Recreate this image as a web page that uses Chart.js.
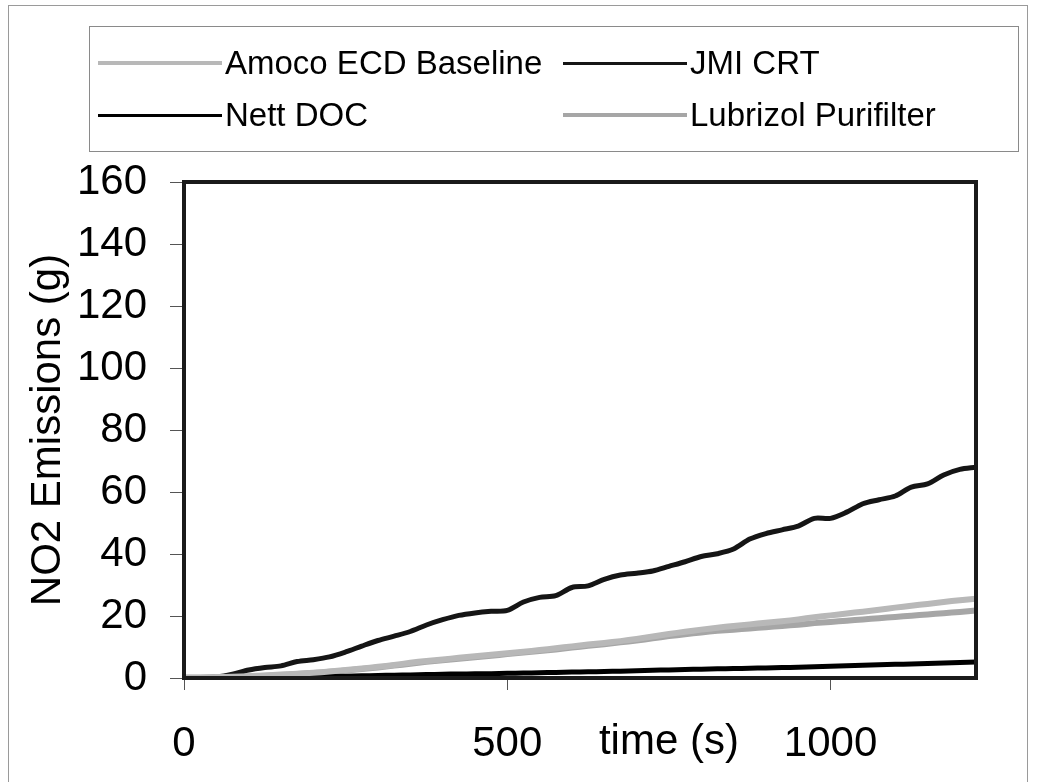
<!DOCTYPE html>
<html>
<head>
<meta charset="utf-8">
<script src="https://cdn.jsdelivr.net/npm/chart.js@4.4.1/dist/chart.umd.min.js"></script>
<style>
    html, body { margin: 0; padding: 0; background: #fff; }
    #wrap { position: relative; width: 1047px; height: 782px; }
    #grafica { position: absolute; left: 0; top: 0; }
    #leyenda {
        position: absolute; left: 89px; top: 26px; width: 930px; height: 126px;
        border: 1px solid #8a8a8a; box-sizing: border-box;
        font-family: "Liberation Sans", Arial, sans-serif; font-size: 33px; color: #000;
    }
    .item { position: absolute; display: flex; align-items: center; height: 40px; white-space: nowrap; }
    .muestra { width: 124px; margin-right: 3px; }
</style>
</head>
<body>
<div id="wrap">
    <canvas id="grafica" width="1047" height="782"></canvas>
    <div id="leyenda"></div>
</div>
<script>
// ==============================
// DATOS
// ==============================
const tiempo = [0, 25, 50, 75, 100, 125, 150, 175, 200, 225, 250, 275, 300, 325, 350, 375, 400, 425, 450, 475,
    500, 525, 550, 575, 600, 625, 650, 675, 700, 725, 750, 775, 800, 825, 850, 875, 900, 925, 950, 975,
    1000, 1025, 1050, 1075, 1100, 1125, 1150, 1175, 1200, 1225];

const amocoBaseline = [0.2, 0.2, 0.3, 0.4, 0.6, 0.8, 1.1, 1.4, 1.7, 2.1, 2.6, 3.1, 3.6, 4.2, 4.9, 5.5, 6.0, 6.5, 7.0, 7.5,
    8.0, 8.5, 9.0, 9.6, 10.2, 10.8, 11.3, 11.9, 12.6, 13.4, 14.2, 14.9, 15.6, 16.2, 16.8, 17.3, 17.8, 18.3, 18.9, 19.6,
    20.2, 20.8, 21.4, 22.0, 22.7, 23.3, 23.9, 24.5, 25.1, 25.6];

const jmiCrt = [0, 0, 0.3, 1.2, 2.6, 3.4, 3.9, 5.3, 5.9, 6.8, 8.4, 10.3, 12.1, 13.5, 15.0, 17.1, 18.8, 20.2, 21.0, 21.5,
    21.8, 24.5, 26.0, 26.6, 29.2, 29.7, 31.8, 33.2, 33.8, 34.5, 36.0, 37.5, 39.2, 40.1, 41.6, 44.8, 46.6, 47.8, 49.0, 51.5,
    51.5, 53.5, 56.2, 57.5, 58.7, 61.6, 62.6, 65.5, 67.3, 68.0];

const nettDoc = [0, 0, 0, 0, 0, 0.1, 0.2, 0.3, 0.4, 0.5, 0.6, 0.7, 0.8, 0.9, 1.0, 1.1, 1.2, 1.3, 1.35, 1.4,
    1.5, 1.6, 1.7, 1.8, 1.9, 2.0, 2.1, 2.2, 2.35, 2.5, 2.6, 2.75, 2.85, 2.95, 3.05, 3.15, 3.25, 3.35, 3.5, 3.65,
    3.8, 3.95, 4.1, 4.25, 4.4, 4.55, 4.7, 4.85, 5.0, 5.2];

const lubrizol = [0.1, 0.1, 0.2, 0.3, 0.5, 0.7, 1.0, 1.3, 1.6, 2.0, 2.4, 2.9, 3.4, 4.0, 4.6, 5.2, 5.7, 6.2, 6.7, 7.2,
    7.7, 8.2, 8.7, 9.2, 9.8, 10.4, 10.9, 11.5, 12.1, 12.8, 13.5, 14.1, 14.7, 15.2, 15.6, 16.0, 16.4, 16.8, 17.2, 17.7,
    18.1, 18.5, 18.9, 19.3, 19.7, 20.1, 20.5, 20.9, 21.3, 21.8];

const ticksX = [0, 500, 1000];
const tituloX = "time (s)";
const tituloY = "NO2 Emissions (g)";

const fuente = '"Liberation Sans", Arial, sans-serif';

function puntos(valores) {
    return valores.map((v, i) => ({ x: tiempo[i], y: v }));
}

// ==============================
// MARCOS Y TÍTULO DEL EJE X
// ==============================
const marco = {
    id: "marco",
    beforeDraw(chart) {
        const ctx = chart.ctx;
        ctx.save();
        ctx.strokeStyle = "#9a9a9a";
        ctx.lineWidth = 1;
        ctx.strokeRect(8.5, 5.5, 1019, 800);
        ctx.restore();
    },
    afterDatasetsDraw(chart) {
        const a = chart.chartArea;
        const ctx = chart.ctx;
        ctx.save();
        ctx.strokeStyle = "#1a1a1a";
        ctx.lineWidth = 4;
        ctx.strokeRect(a.left, a.top, a.right - a.left, a.bottom - a.top);
        ctx.restore();
    },
    afterDraw(chart) {
        const ctx = chart.ctx;
        const x = chart.scales.x.getPixelForValue(750);
        ctx.save();
        ctx.font = "42px " + fuente;
        ctx.fillStyle = "#000";
        ctx.textAlign = "center";
        ctx.textBaseline = "middle";
        ctx.fillText(tituloX, x, 742);
        ctx.restore();
    }
};

// ==============================
// GRÁFICA
// ==============================
const grafica = new Chart(document.getElementById("grafica"), {
    type: "line",
    data: {
        datasets: [
            { label: "Amoco ECD Baseline", data: puntos(amocoBaseline), borderColor: "#b8b8b8", borderWidth: 6 },
            { label: "JMI CRT", data: puntos(jmiCrt), borderColor: "#151515", borderWidth: 5 },
            { label: "Nett DOC", data: puntos(nettDoc), borderColor: "#000000", borderWidth: 5 },
            { label: "Lubrizol Purifilter", data: puntos(lubrizol), borderColor: "#a6a6a6", borderWidth: 6 }
        ]
    },
    options: {
        responsive: false,
        animation: false,
        layout: { padding: { top: 182, right: 71, bottom: 0, left: 0 } },
        elements: {
            point: { radius: 0 },
            line: { tension: 0.3, fill: false }
        },
        plugins: {
            legend: { display: false },
            tooltip: { enabled: false }
        },
        scales: {
            x: {
                type: "linear",
                min: 0,
                max: 1225,
                afterBuildTicks: s => { s.ticks = ticksX.map(v => ({ value: v })); },
                afterFit: s => { s.height = 104; },
                ticks: {
                    autoSkip: false, padding: 29, maxRotation: 0, color: "#000",
                    font: { family: fuente, size: 42 },
                    callback: v => String(v)
                },
                grid: { drawOnChartArea: false, tickLength: 12, tickColor: "#555", tickWidth: 1 },
                border: { display: false }
            },
            y: {
                min: 0,
                max: 160,
                afterFit: s => { s.width = 184; },
                ticks: { stepSize: 20, padding: 23, color: "#000", font: { family: fuente, size: 42 } },
                grid: { drawOnChartArea: false, tickLength: 14, tickColor: "#555", tickWidth: 1 },
                border: { display: false },
                title: {
                    display: true,
                    text: tituloY,
                    color: "#000",
                    font: { family: fuente, size: 42 },
                    padding: { top: 23, bottom: 0 }
                }
            }
        }
    },
    plugins: [marco]
});

// ==============================
// LEYENDA HTML (2 x 2)
// ==============================
const leyenda = document.getElementById("leyenda");
const posiciones = [[8, 16], [473, 16], [8, 68], [473, 68]];
grafica.data.datasets.forEach((ds, i) => {
    const item = document.createElement("div");
    item.className = "item";
    item.style.left = posiciones[i][0] + "px";
    item.style.top = posiciones[i][1] + "px";
    const muestra = document.createElement("div");
    muestra.className = "muestra";
    muestra.style.height = (ds.borderWidth - 2) + "px";
    muestra.style.background = ds.borderColor;
    const texto = document.createElement("span");
    texto.textContent = ds.label;
    item.appendChild(muestra);
    item.appendChild(texto);
    leyenda.appendChild(item);
});
</script>
</body>
</html>
